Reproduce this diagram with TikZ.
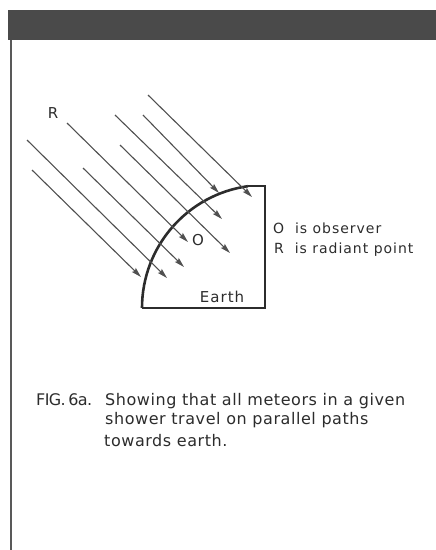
\documentclass[tikz,border=0pt]{standalone}
\usepackage{fontspec}
\setmainfont{DejaVu Sans}
\newfontfamily\spaced[LetterSpace=7]{DejaVu Sans}
\newfontfamily\capspaced[LetterSpace=3.5]{DejaVu Sans}
\newfontfamily\tight[LetterSpace=-4]{DejaVu Sans}
\usepackage{xcolor}
\definecolor{band}{HTML}{4A4A4A}
\definecolor{ink}{HTML}{2C2C2C}
\definecolor{trail}{HTML}{505050}
\usepackage{tikz}
\usetikzlibrary{arrows.meta}

\begin{document}
\begin{tikzpicture}[
      x=1pt, y=-1pt,
      meteor/.style={-{Stealth[length=10pt, width=5.5pt, inset=1.5pt]}, draw=trail, line width=1.1pt},
      crust/.style={draw=ink, line width=2.6pt},
      rim/.style={draw=ink, line width=2pt},
      lbl/.style={inner sep=0pt, text=ink, font=\spaced\fontsize{15}{17}\selectfont},
      keytext/.style={inner sep=0pt, anchor=base west, text=ink, font=\spaced\fontsize{14}{16}\selectfont},
      figcap/.style={inner sep=0pt, anchor=base west, text=ink, font=\capspaced\fontsize{16}{19}\selectfont},
    ]
    \useasboundingbox (0,0) rectangle (436,550);

    % page furniture
    \fill[band] (8,10) rectangle (436,40);
    \draw[draw=gray!70!black, line width=2pt] (11,40) -- (11,550);

    % quadrant of the earth
    \coordinate (sw) at (142,308);
    \coordinate (se) at (265,308);
    \coordinate (ne) at (265,186.2);
    \draw[crust] (sw) arc[start angle=180, end angle=262, radius=123];
    \draw[rim, line join=miter] (247.9,186.2) -- (ne) -- (se) -- (sw);

    % parallel meteor paths
    \coordinate (m1a) at (148,95);  \coordinate (m1b) at (252,197);
    \coordinate (m2a) at (143,115); \coordinate (m2b) at (219,193);
    \coordinate (m3a) at (115,115); \coordinate (m3b) at (222,219);
    \coordinate (m4a) at (120,145); \coordinate (m4b) at (230,253);
    \coordinate (m5a) at (67,123);  \coordinate (m5b) at (188,242);
    \coordinate (m6a) at (83,168);  \coordinate (m6b) at (184,267);
    \coordinate (m7a) at (27,140);  \coordinate (m7b) at (167,278);
    \coordinate (m8a) at (32,170);  \coordinate (m8b) at (141,277);
    \draw[meteor] (m1a) -- (m1b);
    \draw[meteor] (m2a) -- (m2b);
    \draw[meteor] (m3a) -- (m3b);
    \draw[meteor] (m4a) -- (m4b);
    \draw[meteor] (m5a) -- (m5b);
    \draw[meteor] (m6a) -- (m6b);
    \draw[meteor] (m7a) -- (m7b);
    \draw[meteor] (m8a) -- (m8b);

    % labels
    \node[lbl] (radiant)  at (53,113)  {R};
    \node[lbl] (observer) at (198,240) {O};
    \node[lbl] (earth)    at (222,297) {Earth};
    \node[keytext] (keyO) at (273,233.5) {O\ \ is observer};
    \node[keytext] (keyR) at (274,253)   {R\ \ is radiant point};

    % caption
    \node[figcap, font=\tight\fontsize{16}{19}\selectfont] (fig) at (36,405) {FIG.\,6a.};
    \node[figcap] (capA)  at (105,405) {Showing that all meteors in a given};
    \node[figcap] (capB)  at (105,424) {shower travel on parallel paths};
    \node[figcap] (capC)  at (104,446) {towards earth.};
  \end{tikzpicture}
\end{document}
